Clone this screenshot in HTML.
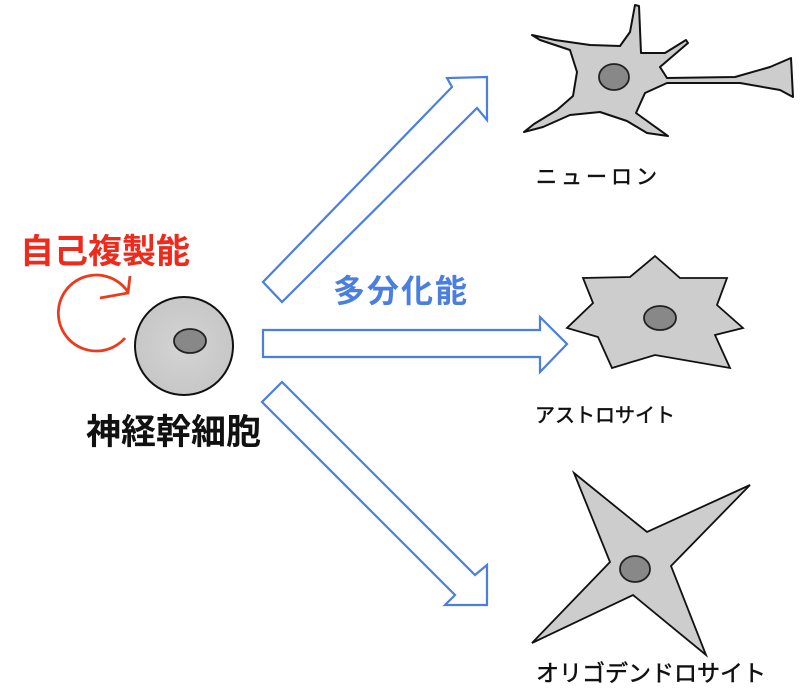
<!DOCTYPE html>
<html><head><meta charset="utf-8"><style>
body{margin:0;background:#fff;}
svg{display:block;}
text{font-family:"Liberation Sans","Noto Sans CJK JP",sans-serif;}
</style></head><body>
<svg width="800" height="695" viewBox="0 0 800 695" xmlns="http://www.w3.org/2000/svg">
<defs>
<radialGradient id="g" cx="0.5" cy="0.5" r="0.6"><stop offset="0" stop-color="#d4d4d4"/><stop offset="1" stop-color="#c4c4c4"/></radialGradient>
</defs>
<g fill="none" stroke="#4a7ee0" stroke-width="2.2" stroke-linejoin="miter">
<polygon points="263,282 452,87 447,78 487,77 487,120 477,108 282,302"/>
<polygon points="263,330 540,330 540,317 567,344 540,372 540,357 263,357"/>
<polygon points="282,382 475,575 487,565 487,605 445,605 455,595 262,402"/>
</g>
<circle cx="184" cy="346" r="49" fill="url(#g)" stroke="#111" stroke-width="2"/>
<ellipse cx="190" cy="341" rx="16" ry="12" fill="#888" stroke="#222" stroke-width="1.8"/>
<g fill="none" stroke="#ee3a1c" stroke-width="2.8">
<path d="M125,338 A38,38 0 1 1 128,292"/>
<path d="M130,276 L128,293 L100,298"/>
</g>
<text x="20" y="263" font-size="34" font-weight="bold" fill="#ee2a1c">自己複製能</text>
<text x="86" y="444" font-size="35" font-weight="bold" fill="#111">神経幹細胞</text>
<text x="333" y="302" font-size="32" font-weight="bold" fill="#4a7ee0" letter-spacing="2">多分化能</text>
<polygon points="532,35 555,40 590,45 620,46 630,32 635,5 639,6 641,53 665,53 686,40 688,43 660,67 667,78 735,77 770,67 791,58 793,97 780,90 740,83 667,83 645,93 636,113 668,136 647,133 627,121 600,112 570,115 543,127 524,132 534,124 557,110 573,96 577,72 570,50 540,40" fill="#cdcdcd" stroke="#111" stroke-width="2" stroke-linejoin="round"/>
<ellipse cx="614" cy="77" rx="15" ry="13" fill="#888" stroke="#222" stroke-width="1.8"/>
<g fill="#111" stroke="#111" stroke-width="0.5">
<text x="536" y="184" font-size="21" letter-spacing="4">ニューロン</text>
<text x="535" y="422" font-size="20">アストロサイト</text>
<text x="536" y="681" font-size="23">オリゴデンドロサイト</text>
</g>
<polygon points="655,256 680,278 727,278 717,305 743,328 715,335 730,368 655,355 612,368 598,337 567,328 593,303 583,278 630,277" fill="#cdcdcd" stroke="#111" stroke-width="1.8"/>
<ellipse cx="660" cy="318" rx="16" ry="12" fill="#888" stroke="#222" stroke-width="1.8"/>
<polygon points="574,473 647,532 750,485 671,566 706,655 633,595 532,643 610,562" fill="#cdcdcd" stroke="#111" stroke-width="1.8" stroke-linejoin="miter"/>
<ellipse cx="635" cy="569" rx="15" ry="13" fill="#888" stroke="#222" stroke-width="1.8"/>
</svg>
</body></html>
